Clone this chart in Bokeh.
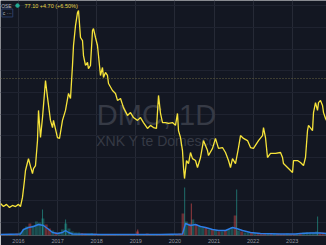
import pandas as pd
from bokeh.plotting import figure
from bokeh.models import Range1d, FixedTicker, Span, Label, ColumnDataSource, CustomJSTickFormatter
from bokeh.core.properties import value
from bokeh.embed import file_html
from bokeh.resources import INLINE

# ---- data ----
price_year = [2015.540, 2015.616, 2015.693, 2015.770, 2015.847, 2015.923, 2016.000, 2016.051,
              2016.102, 2016.153, 2016.179, 2016.230, 2016.256, 2016.307, 2016.358, 2016.384,
              2016.435, 2016.486, 2016.512, 2016.563, 2016.614, 2016.691, 2016.742, 2016.818,
              2016.870, 2016.895, 2016.997, 2017.049, 2017.125, 2017.202, 2017.279, 2017.330,
              2017.381, 2017.407, 2017.458, 2017.509, 2017.535, 2017.586, 2017.637, 2017.662,
              2017.714, 2017.765, 2017.790, 2017.841, 2017.893, 2017.918, 2017.969, 2018.020,
              2018.046, 2018.097, 2018.148, 2018.174, 2018.225, 2018.276, 2018.302, 2018.404,
              2018.481, 2018.532, 2018.609, 2018.685, 2018.788, 2018.864, 2018.941, 2019.043,
              2019.120, 2019.197, 2019.299, 2019.376, 2019.453, 2019.529, 2019.581, 2019.632,
              2019.683, 2019.760, 2019.836, 2019.939, 2020.015, 2020.066, 2020.092, 2020.143,
              2020.194, 2020.220, 2020.246, 2020.297, 2020.348, 2020.399, 2020.450, 2020.527,
              2020.578, 2020.655, 2020.731, 2020.834, 2020.859, 2020.962, 2021.038, 2021.115,
              2021.217, 2021.294, 2021.371, 2021.422, 2021.473, 2021.550, 2021.627, 2021.678,
              2021.754, 2021.857, 2021.934, 2022.010, 2022.138, 2022.240, 2022.266, 2022.317,
              2022.368, 2022.445, 2022.573, 2022.701, 2022.752, 2022.777, 2022.880, 2022.957,
              2023.008, 2023.033, 2023.136, 2023.212, 2023.289, 2023.340, 2023.391, 2023.417,
              2023.519, 2023.545, 2023.596, 2023.647, 2023.673, 2023.724, 2023.775, 2023.801,
              2023.852, 2023.877]
price_close = [38.8, 37.4, 38.4, 37.0, 37.9, 37.4, 38.4, 37.4,
               41.6, 49.4, 54.0, 57.7, 59.5, 55.9, 52.6, 54.9,
               56.3, 67.8, 81.7, 69.2, 78.4, 95.5, 87.7, 77.1,
               73.8, 77.1, 69.2, 68.8, 77.1, 81.7, 89.5, 87.2,
               102.4, 111.6, 120.8, 126.8, 127.7, 115.3, 113.9, 107.0,
               102.4, 103.8, 101.0, 102.4, 118.5, 119.4, 115.3, 111.6,
               107.0, 97.8, 101.5, 96.9, 99.2, 97.8, 94.1, 90.9,
               89.5, 86.3, 87.2, 83.0, 79.4, 80.7, 78.4, 77.1,
               78.4, 76.1, 73.4, 74.8, 73.8, 73.4, 88.6, 80.3,
               76.1, 76.1, 75.7, 76.1, 74.8, 80.3, 72.4, 69.2,
               63.2, 55.4, 50.3, 58.6, 57.2, 62.3, 59.5, 58.6,
               55.4, 60.0, 67.8, 63.2, 60.9, 64.2, 68.8, 64.2,
               64.6, 62.3, 58.6, 55.4, 59.5, 57.2, 64.6, 70.1,
               68.8, 67.8, 64.6, 64.2, 67.8, 70.1, 73.8, 69.2,
               60.0, 61.9, 61.9, 62.3, 60.0, 57.2, 55.4, 54.0,
               53.1, 58.6, 58.6, 57.7, 56.3, 60.0, 72.4, 74.8,
               72.4, 80.7, 85.3, 81.7, 85.3, 86.3, 84.0, 80.7,
               78.0, 77.1]

vol_months = pd.period_range("2015-08", "2023-11", freq="M")
volume = [15, 10, 15, 10, 20,
          30, 60, 90, 120, 100, 140, 130, 170, 110, 70, 50, 30,
          30, 60, 120, 70, 40, 30, 30, 25, 20, 20, 25, 20,
          15, 15, 15, 12, 10, 10, 10, 10, 10, 12, 12, 15,
          40, 15, 12, 20, 12, 10, 15, 10, 10, 10, 10, 10,
          15, 20, 220, 140, 120, 160, 110, 90, 80, 80, 60, 60,
          50, 40, 40, 50, 60, 80, 200, 50, 40, 30, 30, 25,
          25, 20, 20, 20, 15, 15, 15, 15, 15, 15, 20, 15,
          15, 20, 20, 30, 35, 30, 30, 40, 30, 30, 30]
vol_up = [0, 1, 0, 1, 0,
          1, 1, 1, 0, 1, 1, 1, 1, 0, 0, 1, 0,
          1, 1, 1, 1, 1, 1, 1, 0, 0, 1, 1, 0,
          0, 1, 0, 0, 0, 0, 1, 0, 0, 0, 1, 0,
          0, 1, 0, 0, 0, 1, 0, 0, 0, 1, 0, 1,
          0, 0, 0, 1, 0, 1, 0, 1, 1, 0, 1, 0,
          1, 0, 1, 0, 1, 1, 0, 1, 0, 1, 1, 0,
          1, 0, 0, 0, 1, 0, 1, 0, 0, 0, 1, 0,
          0, 1, 0, 1, 1, 1, 1, 1, 0, 0, 1]

spike_year = [2016.615, 2017.205, 2019.050, 2020.250, 2020.420, 2021.580, 2023.650]
spike_volume = [260, 160, 60, 480, 320, 460, 190]
spike_up = [1, 1, 0, 1, 0, 1, 1]

ma_year = [2015.540, 2016.051, 2016.128, 2016.256, 2016.384, 2016.512, 2016.639, 2016.742,
           2016.870, 2016.997, 2017.125, 2017.202, 2017.279, 2017.381, 2018.097, 2018.864,
           2019.632, 2020.194, 2020.271, 2020.399, 2020.527, 2020.655, 2020.783, 2020.962,
           2021.115, 2021.294, 2021.473, 2021.575, 2021.729, 2021.934, 2022.189, 2022.701,
           2023.084, 2023.212, 2023.468, 2023.724, 2023.877]
ma_volume = [10, 15, 60, 80, 90, 110, 100, 70, 30, 20, 30, 50, 30, 15, 10, 10,
             10, 15, 120, 100, 110, 90, 80, 60, 50, 50, 80, 70, 50, 30, 20, 15,
             15, 20, 25, 25, 20]

tick_years = [2016, 2017, 2018, 2019, 2020, 2021, 2022, 2023]
ref_price = 96.4
exchange_text = "OSE"
last_text = "77.10 +4.70 (+6.50%)"
button_text = "c ···"

# ---- styling ----
BG = "#131722"
UP = "#26a69a"
DOWN = "#ef5350"
LINE = "#f7e43a"

p = figure(width=326, height=245, output_backend="svg", toolbar_location=None,
           x_range=Range1d(2015.540, 2023.877), y_range=Range1d(24.06, 132.35),
           min_border=0, min_border_left=0, min_border_right=0, min_border_top=0,
           min_border_bottom=0)
p.extra_y_ranges = {"vol": Range1d(0, 2350)}
p.background_fill_color = BG
p.border_fill_color = BG
p.outline_line_color = None

p.yaxis.visible = False
xa = p.xaxis[0]
xa.ticker = FixedTicker(ticks=tick_years)
xa.formatter = CustomJSTickFormatter(code="return tick.toFixed(0);")
xa.axis_line_color = None
xa.major_tick_line_color = None
xa.minor_tick_line_color = None
xa.major_tick_out = 0
xa.major_tick_in = 0
xa.major_label_standoff = 3
xa.major_label_text_font = "Liberation Sans"
xa.major_label_text_font_size = "5.5px"
xa.major_label_text_color = "#9598a1"

p.xgrid.ticker = FixedTicker(ticks=tick_years)
p.xgrid.grid_line_color = "#262a36"
p.ygrid.ticker = FixedTicker(ticks=[30, 40, 50, 60, 70, 80, 90, 100, 110, 120, 130])
p.ygrid.grid_line_color = "#1f2330"

# watermark
p.text(x=[2019.529], y=[79.4], text=["DMC, 1D"], text_font=value("Liberation Sans"),
       text_font_size="29px", text_color="#363a45", text_align="center",
       text_baseline="alphabetic")
p.text(x=[2019.529], y=[67.8], text=["XNK Y te Domesco"], text_font=value("Liberation Sans"),
       text_font_size="14px", text_color="#363a45", text_align="center",
       text_baseline="alphabetic")

# volume
vsrc = ColumnDataSource(dict(
    x=[per.year + (per.month - 0.5) / 12 for per in vol_months],
    top=volume,
    color=[UP if u else DOWN for u in vol_up],
))
p.vbar(x="x", top="top", bottom=0, width=1 / 12 * 0.9, color="color", alpha=0.4,
       source=vsrc, y_range_name="vol", line_color=None)
p.segment(x0=spike_year, x1=spike_year, y0=[0] * len(spike_year), y1=spike_volume,
          line_color=[UP if u else DOWN for u in spike_up], line_alpha=0.6, line_width=1,
          y_range_name="vol")
p.line(ma_year, ma_volume, line_color="#2d7ee8", line_width=1.4, y_range_name="vol")

# reference dashed price line
p.add_layout(Span(location=ref_price, dimension="width", line_color="#6b6642",
                  line_dash="1 2", line_width=1))

# price line
p.line(price_year, price_close, line_color=LINE, line_width=1.3)

# legend header
p.add_layout(Label(x=2015.556, y=130.0, text=exchange_text, text_align="left",
                   text_baseline="middle", text_font="Liberation Sans",
                   text_font_size="5px", text_color="#b2b5be"))
p.scatter([2015.975], [130.0], size=3.5, color="#22ab94")
p.add_layout(Label(x=2016.154, y=130.0, text=last_text, text_align="left",
                   text_baseline="middle", text_font="Liberation Sans",
                   text_font_size="5.5px", text_color="#e6d84a"))
p.add_layout(Label(x=2015.575, y=126.6, text=button_text, text_align="left",
                   text_baseline="middle", text_font="Liberation Sans",
                   text_font_size="5px", text_color="#b2b5be",
                   border_line_color="#2a3d66", border_line_width=1,
                   background_fill_color=BG, padding=1))

open("out.html", "w").write(file_html(p, INLINE))
